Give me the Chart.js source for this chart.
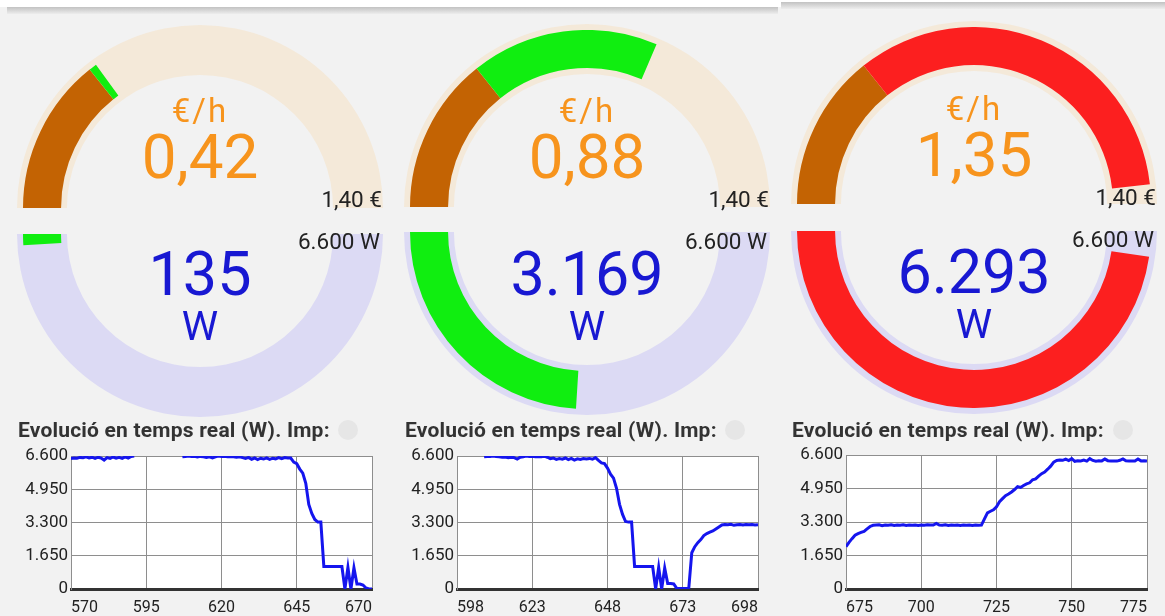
<!DOCTYPE html>
<html>
<head>
<meta charset="utf-8">
<script src="https://cdn.jsdelivr.net/npm/chart.js@4.4.1/dist/chart.umd.min.js"></script>
<style>
  html, body { margin: 0; padding: 0; }
  body {
    width: 1165px; height: 616px; position: relative; overflow: hidden;
    background: #f2f2f2; font-family: Roboto, "Noto Sans", sans-serif;
  }
  canvas { position: absolute; }
  .strip { position: absolute; }
  .lbl { position: absolute; line-height: 1; white-space: nowrap; }
  .dot { position: absolute; width: 20px; height: 20px; border-radius: 50%; background: #e6e6e6; }
</style>
</head>
<body>
<div class="strip" style="left:0;top:0;width:1165px;height:7px;background:#fff"></div>
<div class="strip" style="left:7px;top:7px;width:771px;height:7px;background:linear-gradient(#c2c2c2,#ededed)"></div>
<div class="strip" style="left:781px;top:2px;width:384px;height:7px;background:linear-gradient(#c2c2c2,#ededed)"></div>
<script>
// gauge readings, one per screen
const euroValues = [0.42, 0.88, 1.35];
const euroBase = 0.40;
const euroMax = 1.40;
const wattValues = [135, 3169, 6293];
const wattMax = 6600;
const levelColors = ['#10ee10', '#10ee10', '#fc1f1f'];

// real-time charts
const yTicks = [0, 1650, 3300, 4950, 6600];
const xTicks1 = [570, 595, 620, 645, 670];
const xTicks2 = [598, 623, 648, 673, 698];
const xTicks3 = [675, 700, 725, 750, 775];

const start1 = 570;
const watts1 = [
  6480, 6500, 6490, 6530, 6510, 6560, 6500, 6540, 6480, 6540,
  6500, 6400, 6520, 6480, 6550, 6490, 6530, 6480, 6560, 6500,
  6580, 6600, null, null, null, null, null, null, null, null,
  null, null, null, null, null, null, null, 6560, 6580, 6600,
  6570, 6590, 6550, 6580, 6560, 6530, 6560, 6510, 6560, 6600,
  6570, 6590, 6560, 6580, 6560, 6540, 6560, 6520, 6480, 6530,
  6440, 6500, 6420, 6490, 6450, 6510, 6430, 6490, 6460, 6520,
  6470, 6520, 6500, 6500, 6300, 6220, 5950, 5750, 5250, 4200,
  3750, 3450, 3320, 3320, 1120, 1120, 1120, 1120, 1120, 1120,
  1120, 0, 1070, 0, 1050, 250, 250, 200, 50, 0,
  0
];

const start2 = 607;
const watts2 = [
  6560, 6580, 6570, 6600, 6570, 6560, 6540, 6550, 6520, 6540,
  6520, 6450, 6540, 6560, 6600, 6580, 6590, 6560, 6580, 6560,
  6590, 6540, 6470, 6500, 6430, 6470, 6440, 6500, 6420, 6480,
  6400, 6460, 6430, 6470, 6450, 6480, 6440, 6520, 6380, 6260,
  6220, 6000, 5700, 5500, 5000, 4200, 3700, 3350, 3320, 3320,
  1120, 1120, 1120, 1120, 1120, 1120, 1120, 0, 1070, 0,
  1040, 270, 270, 250, 30, 30, 30, 30, 30, 1800,
  2100, 2300, 2450, 2650, 2750, 2820, 2880, 2980, 3080, 3180,
  3200, 3190, 3210, 3160, 3190, 3200, 3180, 3200, 3190, 3200,
  3180, 3190
];

const start3 = 675;
const watts3 = [
  2080, 2300, 2480, 2650, 2730, 2790, 2840, 2960, 3080, 3140,
  3150, 3160, 3120, 3150, 3140, 3160, 3130, 3150, 3140, 3160,
  3130, 3150, 3140, 3150, 3130, 3150, 3140, 3160, 3150, 3150,
  3230, 3150, 3140, 3160, 3130, 3150, 3140, 3150, 3130, 3150,
  3140, 3150, 3130, 3150, 3140, 3150, 3450, 3750, 3830, 3900,
  4050, 4300, 4450, 4600, 4680, 4780, 4900, 5040, 5000, 5100,
  5180, 5230, 5380, 5420, 5560, 5680, 5760, 5900, 6050, 6250,
  6330, 6350, 6340, 6400, 6330, 6420, 6290, 6320, 6310, 6350,
  6300, 6420, 6330, 6290, 6320, 6310, 6400, 6320, 6300, 6310,
  6300, 6340, 6410, 6320, 6300, 6310, 6300, 6400, 6310, 6320,
  6300
];

const series = [
  { start: start1, watts: watts1, ticks: xTicks1 },
  { start: start2, watts: watts2, ticks: xTicks2 },
  { start: start3, watts: watts3, ticks: xTicks3 }
];

// where each screen sits on the page
const screens = [
  { cx: 200, cyTop: 208, cyBot: 234, shift: 0, plotLeft: 71, plotTop: 456, titleX: 18, dotX: 338 },
  { cx: 587, cyTop: 207, cyBot: 232, shift: 0, plotLeft: 457, plotTop: 456, titleX: 405, dotX: 725 },
  { cx: 974, cyTop: 204, cyBot: 231, shift: -2, plotLeft: 846, plotTop: 455, titleX: 792, dotX: 1113 }
];

const BEIGE = '#f4e9d9';
const LAVENDER = '#dcdaf4';
const BROWN = '#c36303';
const NONE = 'rgba(0,0,0,0)';

const euroText = v => v.toFixed(2).replace('.', ',');
const wattText = v => String(v).replace(/\B(?=(\d{3})+(?!\d))/g, '.');

function label(str, x, baseline, size, color, align, weight, spacing) {
  const d = document.createElement('div');
  d.className = 'lbl';
  d.textContent = str;
  d.style.fontSize = size + 'px';
  d.style.color = color;
  d.style.fontWeight = weight || 400;
  d.style.top = (baseline - 0.842 * size) + 'px';
  if (spacing) d.style.letterSpacing = spacing + 'px';
  if (align === 'center') {
    d.style.left = x + 'px';
    d.style.transform = 'translateX(-50%)';
  } else if (align === 'right') {
    d.style.right = (1165 - x) + 'px';
  } else {
    d.style.left = x + 'px';
  }
  document.body.appendChild(d);
}

function ring(cx, cy, radius, top, values, colors, cutout) {
  const c = document.createElement('canvas');
  c.width = radius * 2;
  c.height = radius;
  c.style.left = (cx - radius) + 'px';
  c.style.top = (top ? cy - radius : cy) + 'px';
  document.body.appendChild(c);
  new Chart(c, {
    type: 'doughnut',
    data: { datasets: [{ data: values, backgroundColor: colors, borderWidth: 0 }] },
    options: {
      responsive: false,
      animation: false,
      events: [],
      rotation: top ? -90 : 90,
      circumference: 180,
      cutout: cutout,
      plugins: { legend: { display: false }, tooltip: { enabled: false } }
    }
  });
}

const plotBg = {
  id: 'plotBg',
  beforeDraw(chart) {
    const { ctx, chartArea: a } = chart;
    ctx.save();
    ctx.fillStyle = '#ffffff';
    ctx.fillRect(a.left, a.top, a.right - a.left, a.bottom - a.top);
    ctx.restore();
  }
};

function lineChart(s, scr) {
  const c = document.createElement('canvas');
  c.width = 52 + 302 + 8;
  c.height = 589 - scr.plotTop + 16 + 28;
  c.style.left = (scr.plotLeft - 52) + 'px';
  c.style.top = (scr.plotTop - 16) + 'px';
  document.body.appendChild(c);
  const points = s.watts.map((w, i) => ({ x: s.start + i, y: w }));
  new Chart(c, {
    type: 'line',
    data: {
      datasets: [{
        data: points,
        borderColor: '#1515ee',
        borderWidth: 3,
        pointRadius: 0,
        tension: 0,
        spanGaps: false
      }]
    },
    options: {
      responsive: false,
      animation: false,
      events: [],
      layout: { padding: { top: 16, right: 8, left: 0, bottom: 0 } },
      plugins: { legend: { display: false }, tooltip: { enabled: false } },
      scales: {
        x: {
          type: 'linear',
          min: s.ticks[0],
          max: s.ticks[s.ticks.length - 1],
          afterBuildTicks: axis => { axis.ticks = s.ticks.map(v => ({ value: v })); },
          afterFit: axis => { axis.height = 28; },
          grid: { color: '#8e8e8e', drawTicks: false },
          border: { color: '#333333', width: 3 },
          ticks: { align: 'inner', padding: 9, color: '#222', font: { family: 'Roboto', size: 16 }, callback: v => String(v) }
        },
        y: {
          min: 0,
          max: wattMax,
          afterBuildTicks: axis => { axis.ticks = yTicks.map(v => ({ value: v })); },
          afterFit: axis => { axis.width = 52; },
          grid: { color: '#8e8e8e', drawTicks: false },
          border: { color: '#8e8e8e' },
          ticks: { padding: 3, color: '#222', font: { family: 'Roboto', size: 17 }, callback: v => wattText(v) }
        }
      }
    },
    plugins: [plotBg]
  });
}

screens.forEach((scr, i) => {
  const euro = euroValues[i];
  const watt = wattValues[i];
  const col = levelColors[i];

  // euro gauge (upper half)
  ring(scr.cx, scr.cyTop, 183, true, [1], [BEIGE], '72.7%');
  ring(scr.cx, scr.cyTop, 177, true, [euroBase, euro - euroBase, euroMax - euro], [BROWN, col, NONE], '78.5%');
  // power gauge (lower half)
  ring(scr.cx, scr.cyBot, 183, false, [1], [LAVENDER], '72.7%');
  ring(scr.cx, scr.cyBot, 177, false, [wattMax - watt, watt], [NONE, col], '78.5%');

  const sh = scr.shift;
  label('€/h', scr.cx, 122 + sh, 33, '#f7941d', 'center', 400, 2);
  label(euroText(euro), scr.cx, 178 + sh, 62, '#f7941d', 'center');
  label(euroText(euroMax) + ' €', scr.cx + 182, 207 + sh, 22.5, '#222', 'right');
  label(wattText(wattMax) + ' W', scr.cx + 180, 249 + sh, 22.5, '#222', 'right');
  label(wattText(watt), scr.cx, 295 + sh, 61, '#1818d2', 'center');
  label('W', scr.cx, 341 + sh, 41, '#1818d2', 'center');

  label('Evolució en temps real (W). Imp:', scr.titleX, 438, 21, '#333', 'left', 700, 0.2);
  const dot = document.createElement('div');
  dot.className = 'dot';
  dot.style.left = scr.dotX + 'px';
  dot.style.top = '420px';
  document.body.appendChild(dot);

  lineChart(series[i], scr);
});
</script>
</body>
</html>
